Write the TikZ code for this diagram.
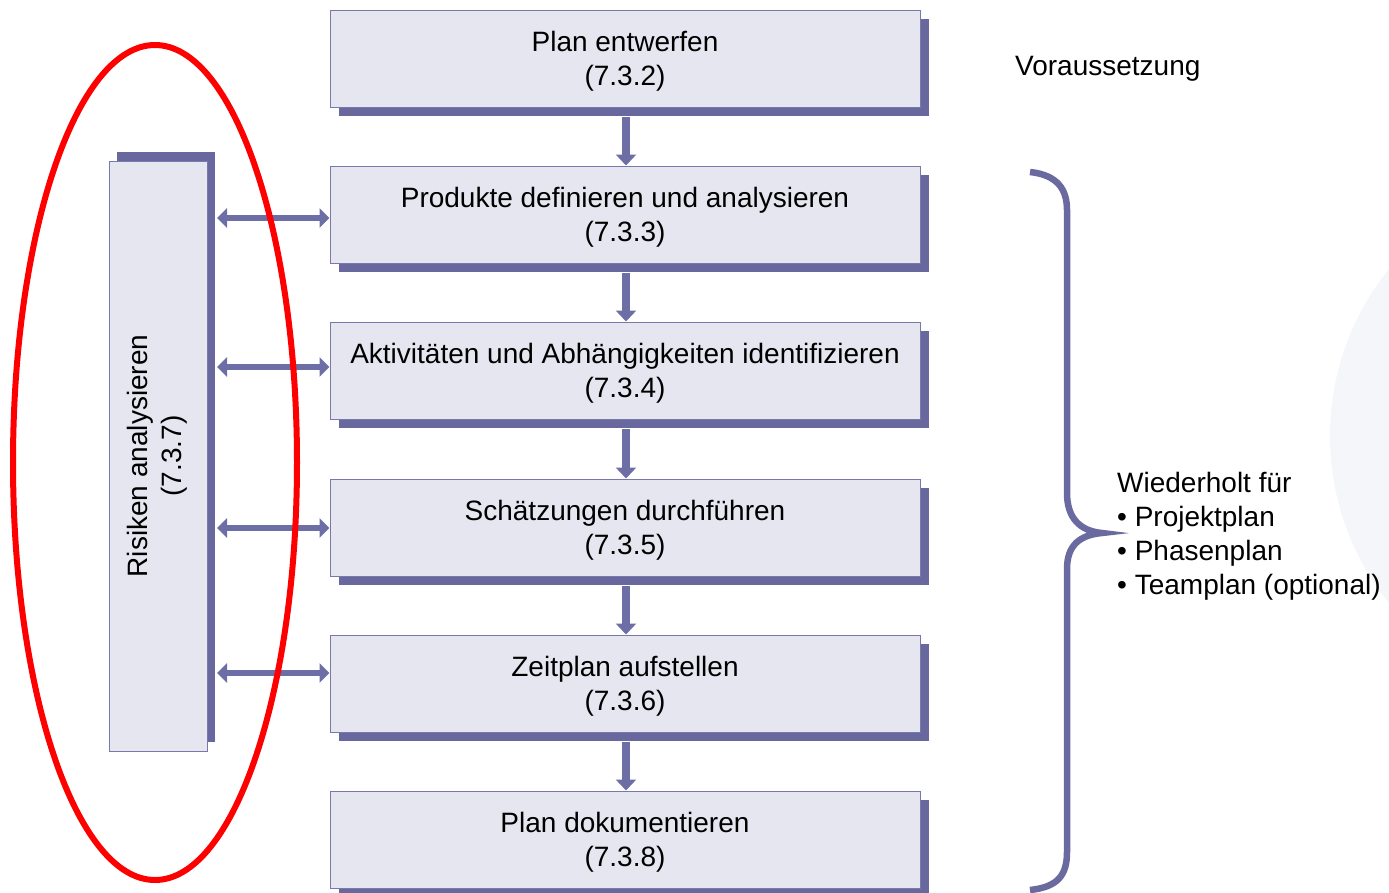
\documentclass[tikz,border=0pt]{standalone}
\usepackage{fontspec}
\setmainfont{Liberation Sans}
\usepackage{graphicx}
\usetikzlibrary{shadows,arrows.meta}
\definecolor{boxfill}{RGB}{230,230,240}
\definecolor{boxline}{RGB}{120,120,170}
\definecolor{shadowcol}{RGB}{104,104,158}
\definecolor{arrcol}{RGB}{110,110,166}
\definecolor{bracecol}{RGB}{106,106,160}
\definecolor{bgcirc}{RGB}{244,246,249}
\newcommand{\toppad}{\rule{0pt}{26pt}}
\tikzset{
  x=1pt,y=-1pt,
  stepbox/.style={draw=boxline,line width=1pt,fill=boxfill,minimum width=590pt,minimum height=97pt,inner sep=0pt,align=center,
     font=\fontsize{28}{34}\selectfont,
     general shadow={fill=shadowcol,shadow xshift=9pt,shadow yshift=-9pt}},
  riskbox/.style={draw=boxline,line width=1pt,fill=boxfill,minimum width=98pt,minimum height=590pt,inner sep=0pt,
     general shadow={fill=shadowcol,shadow xshift=8pt,shadow yshift=9pt}},
  down/.style={draw=arrcol,line width=7.5pt,-{Triangle[width=20pt,length=11pt]}},
  both/.style={draw=arrcol,line width=6.5pt,{Triangle[width=19pt,length=10pt]}-{Triangle[width=19pt,length=10pt]}},
  lbl/.style={font=\fontsize{28}{34}\selectfont,inner sep=0pt},
}
\begin{document}
\begin{tikzpicture}
\useasboundingbox (0,0) rectangle (1389,892);
\begin{scope}
\clip (0,0) rectangle (1389,892);
\fill[bgcirc] (1596,436) circle (266);
\end{scope}
\node[stepbox] (b1) at (625,58.5) {\toppad Plan entwerfen\\(7.3.2)};
\node[stepbox] (b2) at (625,214.5) {\toppad Produkte definieren und analysieren\\(7.3.3)};
\node[stepbox] (b3) at (625,370.5) {\toppad Aktivitäten und Abhängigkeiten identifizieren\\(7.3.4)};
\node[stepbox] (b4) at (625,527.5) {\toppad Schätzungen durchführen\\(7.3.5)};
\node[stepbox] (b5) at (625,683.5) {\toppad Zeitplan aufstellen\\(7.3.6)};
\node[stepbox] (b6) at (625,839.5) {\toppad Plan dokumentieren\\(7.3.8)};
\node[riskbox] (risk) at (158,456) {\rotatebox{90}{\fontsize{28}{34}\selectfont\begin{tabular}{@{}c@{}}Risiken analysieren\\(7.3.7)\end{tabular}}};
\coordinate (re) at (217,0);
\foreach \a/\b in {b1/b2,b2/b3,b3/b4,b4/b5,b5/b6}
  \draw[down] ([xshift=1pt,yshift=-9pt]\a.south) -- ([xshift=1pt]\b.north);
\draw[both] ([yshift=-3.5pt]b2.west -| re) -- ([yshift=-3.5pt]b2.west);
\draw[both] ([yshift=3.5pt]b3.west -| re) -- ([yshift=3.5pt]b3.west);
\draw[both] ([yshift=-0.5pt]b4.west -| re) -- ([yshift=-0.5pt]b4.west);
\draw[both] ([yshift=10.5pt]b5.west -| re) -- ([yshift=10.5pt]b5.west);
\node[lbl,anchor=west] (vor) at (1015,69) {Voraussetzung};
\draw[bracecol,line width=6.5pt] (1030,172) .. controls (1058,175) and (1067,190) .. (1067,210) -- (1067,493)
  .. controls (1067,518) and (1080,531) .. (1102,533) .. controls (1080,535) and (1067,545) .. (1067,569)
  -- (1067,852) .. controls (1067,875) and (1058,887) .. (1030,890);
\node[lbl,anchor=north west,align=left] (wdh) at (1117,472) {Wiederholt für\\• Projektplan\\• Phasenplan\\• Teamplan (optional)};
\draw[red,line width=6pt] (155,462.5) ellipse [x radius=142, y radius=417.5];
\end{tikzpicture}
\end{document}
